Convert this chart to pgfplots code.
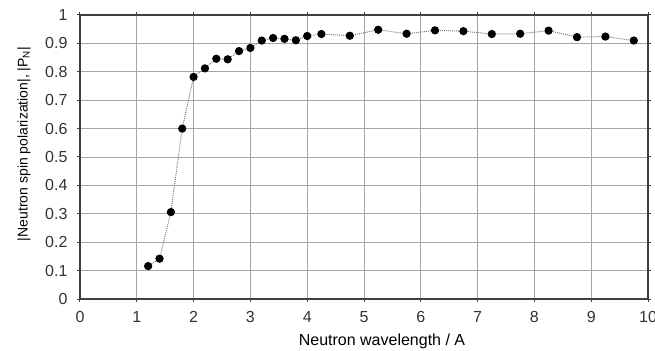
\documentclass[border=0pt]{standalone}
\usepackage{fontspec}
\setmainfont{Liberation Sans}
\usepackage{pgfplots}
\pgfplotsset{compat=1.18}
\begin{document}
\begin{tikzpicture}
\begin{axis}[
  name=ax,
  scale only axis,
  width=568bp, height=284bp,
  xmin=0, xmax=10, ymin=0, ymax=1,
  xtick={0,1,...,10},
  ytick={0,0.1,...,1},
  yticklabels={0,0.1,0.2,0.3,0.4,0.5,0.6,0.7,0.8,0.9,1},
  /pgf/number format/assume math mode=true,
  tick label style={font=\fontsize{16bp}{18bp}\selectfont, text=black!80},
  xticklabel style={yshift=-6bp},
  yticklabel style={xshift=-6bp},
  grid=major,
  major grid style={draw=black!35, line width=0.9bp},
  axis line style={draw=black!75, line width=1.6bp},
  tick align=outside,
  major tick length=3bp,
  tick style={draw=black!75, line width=1bp},
  xlabel={Neutron wavelength / A},
  ylabel={|Neutron spin polarization|, |P\textsubscript{N}|},
  xlabel style={font=\fontsize{16bp}{18bp}\selectfont, at={(axis description cs:0.5,0)}, anchor=center, xshift=18bp, yshift=-42bp},
  ylabel style={font=\fontsize{14bp}{16bp}\selectfont, at={(axis description cs:0,0.5)}, anchor=center, xshift=13bp, yshift=56bp},
  clip=false,
]
\addplot[densely dotted, draw=black!50, line width=1bp,
  mark=*, mark size=3.6bp, mark options={solid, fill=black, draw=black}]
coordinates {
(1.2,0.116) (1.4,0.142) (1.6,0.306) (1.8,0.600) (2.0,0.782)
(2.2,0.812) (2.4,0.846) (2.6,0.844) (2.8,0.873) (3.0,0.884)
(3.2,0.910) (3.4,0.919) (3.6,0.916) (3.8,0.911) (4.0,0.926)
(4.25,0.933) (4.75,0.927) (5.25,0.948) (5.75,0.934) (6.25,0.946)
(6.75,0.943) (7.25,0.933) (7.75,0.934) (8.25,0.945) (8.75,0.922)
(9.25,0.924) (9.75,0.910)
};
\end{axis}
\pgfresetboundingbox
\useasboundingbox ([xshift=-80bp,yshift=-52bp]ax.south west) rectangle ([xshift=7bp,yshift=15bp]ax.north east);
\end{tikzpicture}
\end{document}
